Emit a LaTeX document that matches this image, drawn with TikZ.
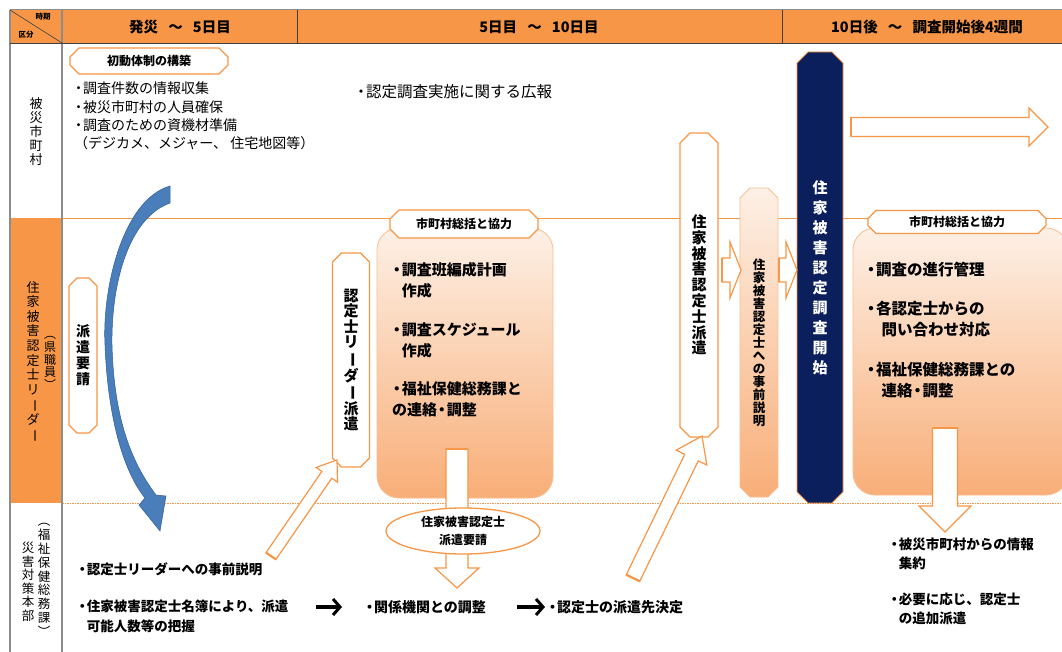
\documentclass[tikz,border=0pt]{standalone}
\usepackage{fontspec}
\usepackage{graphicx}
\setmainfont{Noto Sans CJK JP}
\usetikzlibrary{calc,shapes.geometric,arrows.meta}
\pgfdeclarelayer{bg}
\pgfsetlayers{bg,main}
\definecolor{hdr}{HTML}{F79646}
\definecolor{peachA}{HTML}{FDF0E6}
\definecolor{peachB}{HTML}{F8AE78}
\definecolor{boxedge}{HTML}{F9BE8F}
\definecolor{navy}{HTML}{0A1F5C}
\definecolor{bluearr}{HTML}{4A7EBB}
\definecolor{bluedge}{HTML}{2F5C96}
\definecolor{gridgray}{HTML}{8C8C8C}
\newcommand\fsz[2]{\fontsize{#1}{#2}\selectfont}
\newcommand\vchoon{\rotatebox[origin=c]{-90}{ー}}
\newcommand\bul{\makebox[0.65em]{・}}
% octagon node: name, position, width, height, chamfer, path style, node style, text
\newcommand\octnode[8]{%
  \node[minimum width=#3, minimum height=#4, align=center, #7] (#1) at (#2) {#8};
  \begin{pgfonlayer}{bg}
  \path[#6] ($(#1.north west)+(#5,0)$) -- ($(#1.north east)+(-#5,0)$) -- ($(#1.north east)+(0,#5)$) -- ($(#1.south east)+(0,-#5)$) -- ($(#1.south east)+(-#5,0)$) -- ($(#1.south west)+(#5,0)$) -- ($(#1.south west)+(0,-#5)$) -- ($(#1.north west)+(0,#5)$) -- cycle;
  \end{pgfonlayer}}
% block arrow: style, from, to, shaft half width, head half width, head length
\newcommand\blockarrow[6]{%
  \coordinate (bahead) at ($(#3)!#6!(#2)$);
  \path[#1] ($(#2)!#4!90:(#3)$) -- ($(bahead)!#4!-90:(#2)$) -- ($(bahead)!#5!-90:(#2)$) -- (#3) -- ($(bahead)!#5!90:(#2)$) -- ($(bahead)!#4!90:(#2)$) -- ($(#2)!#4!-90:(#3)$) -- cycle;
  \draw[hdr, line width=2.2pt] ($(#2)!#4!90:(#3)$) -- ($(#2)!#4!-90:(#3)$);}
\begin{document}
\begin{tikzpicture}[x=1pt,y=-1pt,
  every node/.style={inner sep=0pt, outer sep=0pt},
  hdrtxt/.style={font=\fsz{14.5}{17}\bfseries},
  smalltxt/.style={font=\fsz{7.5}{9}\bfseries},
  sidetxt/.style={align=center, font=\fsz{13}{14.5}},
  bodytxt/.style={anchor=west, align=left, font=\fsz{14}{18.3}},
  rowtxt/.style={anchor=west, align=left, font=\fsz{13.5}{20}\bfseries},
  boxtxt/.style={anchor=west, align=left, font=\fsz{15}{21}\bfseries},
  labtxt/.style={font=\fsz{12}{14}\bfseries},
  whiteoct/.style={fill=white, draw=hdr, line width=1.3pt},
  gradoct/.style={top color=peachA, bottom color=peachB, draw=boxedge, line width=0.8pt},
  arrowsty/.style={fill=white, draw=hdr, line width=1.2pt},
  blackarr/.style={line width=3.2pt, -{Straight Barb[length=7pt, width=16pt, line width=3pt]}}]
\useasboundingbox (0,0) rectangle (1062,652);
\begin{pgfonlayer}{bg}
\fill[white] (0,0) rectangle (1062,652);
\fill[hdr] (10,10) rectangle (1062,43);
\fill[hdr] (10,218) rectangle (62,503);
\draw[hdr, line width=0.8pt] (62,218) -- (1062,218);
\draw[hdr, line width=0.9pt, dash pattern=on 1.5pt off 1pt] (62,503) -- (1062,503);
\draw[gridgray, line width=1pt] (10,10) -- (1062,10);
\draw[gridgray, line width=1.2pt] (10,10) -- (10,652);
\draw[gridgray, line width=1.2pt] (62,10) -- (62,652);
\draw[black!75, line width=0.8pt] (10,43) -- (1062,43);
\draw[black!75, line width=0.8pt] (297,10) -- (297,43) (782,10) -- (782,43);
\draw[black!75, line width=0.6pt] (10,10) -- (62,43);
\end{pgfonlayer}
% header
\node[smalltxt] (jiki) at (43,17) {時期};
\node[smalltxt] (kubun) at (26,35) {区分};
\node[hdrtxt] (h1) at (180,27) {発災\hspace{0.7em}～\hspace{0.7em}5日目};
\node[hdrtxt] (h2) at (539,27) {5日目\hspace{0.7em}～\hspace{0.7em}10日目};
\node[hdrtxt] (h3) at (927,27) {10日後\hspace{0.7em}～\hspace{0.7em}調査開始後4週間};
% left column
\node[sidetxt, font=\fsz{13}{14}] (s1) at (36,132) {被\\災\\市\\町\\村};
\node[sidetxt, font=\fsz{13}{14.6}] (s2a) at (33,362) {住\\家\\被\\害\\認\\定\\士\\リ\\\vchoon\\ダ\\\vchoon};
\node[sidetxt, font=\fsz{12}{12.6}] (s2b) at (50,363) {︵\\県\\職\\員\\︶};
\node[sidetxt, font=\fsz{12.5}{13.5}] (s3a) at (28,582) {災\\害\\対\\策\\本\\部};
\node[sidetxt, font=\fsz{12.5}{13.8}] (s3b) at (44,580) {︵\\福\\祉\\保\\健\\総\\務\\課\\︶};
% row 1
\octnode{shodo}{149,61}{158pt}{26pt}{9}{whiteoct}{labtxt}{初動体制の構築}
\node[bodytxt] (r1a) at (74,116) {\bul 調査件数の情報収集\\\bul 被災市町村の人員確保\\\bul 調査のための資機材準備\\（デジカメ、メジャー、 住宅地図等）};
\node[bodytxt, font=\fsz{15.5}{18}] (r1b) at (356,92) {\bul 認定調査実施に関する広報};
% big gradient boxes
\node[minimum width=176pt, minimum height=270pt] (boxA) at (465,363) {};
\node[minimum width=215pt, minimum height=267pt] (boxB) at (960.5,361.5) {};
\begin{pgfonlayer}{bg}
\path[rounded corners=22pt, top color=peachA, bottom color=peachB, draw=boxedge, line width=0.8pt] (boxA.north west) rectangle (boxA.south east);
\path[rounded corners=22pt, top color=peachA, bottom color=peachB, draw=boxedge, line width=0.8pt] (boxB.north west) rectangle (boxB.south east);
\end{pgfonlayer}
\octnode{labA}{464,224}{148pt}{28pt}{9}{whiteoct}{labtxt}{市町村総括と協力}
\octnode{labB}{957,222}{178pt}{23pt}{8}{whiteoct}{labtxt}{市町村総括と協力}
\node[boxtxt] (a1) at (392,280.5) {\bul 調査班編成計画\\\phantom{\bul}作成};
\node[boxtxt] (a2) at (392,340.5) {\bul 調査スケジュール\\\phantom{\bul}作成};
\node[boxtxt] (a3) at (392,399.5) {\bul 福祉保健総務課と\\の連絡\bul 調整};
\node[boxtxt, font=\fsz{15.5}{21}\bfseries] (b1) at (866,270) {\bul 調査の進行管理};
\node[boxtxt, font=\fsz{15.5}{21}\bfseries] (b2) at (866,319) {\bul 各認定士からの\\\hspace{1em}問い合わせ対応};
\node[boxtxt, font=\fsz{15.5}{21}\bfseries] (b3) at (866,380) {\bul 福祉保健総務課との\\\hspace{1em}連絡\bul 調整};
% vertical boxes
\octnode{yosei}{83,355.5}{28pt}{155pt}{8}{whiteoct}{font=\fsz{14}{16}\bfseries}{派\\遣\\要\\請}
\octnode{leader}{351,360}{37pt}{214pt}{9}{whiteoct}{font=\fsz{15}{15.5}\bfseries}{認\\定\\士\\リ\\\vchoon\\ダ\\\vchoon\\派\\遣}
\octnode{haken}{699,285}{38pt}{304pt}{10}{whiteoct}{font=\fsz{15}{15.8}\bfseries}{住\\家\\被\\害\\認\\定\\士\\派\\遣}
\octnode{jizen}{759,342.5}{38pt}{309pt}{10}{gradoct}{font=\fsz{12.5}{13}\bfseries}{住\\家\\被\\害\\認\\定\\士\\へ\\の\\事\\前\\説\\明}
\octnode{kaishi}{820,277.5}{46pt}{451pt}{11}{fill=navy, draw=hdr, line width=0.8pt}{text=white, font=\fsz{15}{20}\bfseries}{住\\家\\被\\害\\認\\定\\調\\査\\開\\始}
% block arrows
\coordinate (ra1) at (851,127); \coordinate (ra2) at (1048,127);
\blockarrow{arrowsty}{ra1}{ra2}{9.5pt}{19pt}{19pt}
\coordinate (sa1) at (722,270); \coordinate (sa2) at (741,270);
\blockarrow{arrowsty}{sa1}{sa2}{12pt}{28pt}{11pt}
\coordinate (sb1) at (779,270); \coordinate (sb2) at (797,270);
\blockarrow{arrowsty}{sb1}{sb2}{12pt}{28pt}{11pt}
\coordinate (da1) at (457,449); \coordinate (da2) at (457,588);
\blockarrow{arrowsty}{da1}{da2}{11pt}{22pt}{20pt}
\coordinate (db1) at (945,428); \coordinate (db2) at (945,532);
\blockarrow{arrowsty}{db1}{db2}{12.5pt}{26pt}{26pt}
\coordinate (g1a) at (271,556); \coordinate (g1b) at (337,460);
\blockarrow{arrowsty}{g1a}{g1b}{6pt}{13pt}{18pt}
\coordinate (g2a) at (633,578); \coordinate (g2b) at (702,436);
\blockarrow{arrowsty}{g2a}{g2b}{7.5pt}{17pt}{24pt}
% ellipse
\node[ellipse, draw=hdr, line width=1.3pt, fill=white, minimum width=154pt, minimum height=46pt, align=center, font=\fsz{12}{18}\bfseries] (ell) at (463,531) {住家被害認定士\\派遣要請};
% blue curved arrow
\path[fill=bluearr, draw=bluedge, line width=0.5pt]
  (170,186) .. controls (122,200) and (102,290) .. (105,345)
  .. controls (108,420) and (124,472) .. (145,498)
  -- (139,505) -- (160,531) -- (166,496) -- (156,495)
  .. controls (132,463) and (114,420) .. (112,345)
  .. controls (111,285) and (128,218) .. (170,203) -- cycle;
% row 3 texts
\node[rowtxt] (c1) at (78,569) {\bul 認定士リーダーへの事前説明};
\node[rowtxt] (c2) at (78,616) {\bul 住家被害認定士名簿により、派遣\\\phantom{\bul}可能人数等の把握};
\node[rowtxt, font=\fsz{14}{20}\bfseries] (c3) at (365,607) {\bul 関係機関との調整};
\node[rowtxt, font=\fsz{14}{20}\bfseries] (c4) at (548,607) {\bul 認定士の派遣先決定};
\coordinate (k1a) at (316,607); \coordinate (k1b) at (342,607);
\draw[blackarr] (k1a) -- (k1b);
\coordinate (k2a) at (517,607); \coordinate (k2b) at (545,607);
\draw[blackarr] (k2a) -- (k2b);
\node[rowtxt, font=\fsz{13.5}{18.5}\bfseries] (d1) at (890,554) {\bul 被災市町村からの情報\\\phantom{\bul}集約};
\node[rowtxt, font=\fsz{13.5}{18.5}\bfseries] (d2) at (890,609) {\bul 必要に応じ、認定士\\\phantom{\bul}の追加派遣};
\end{tikzpicture}
\end{document}
